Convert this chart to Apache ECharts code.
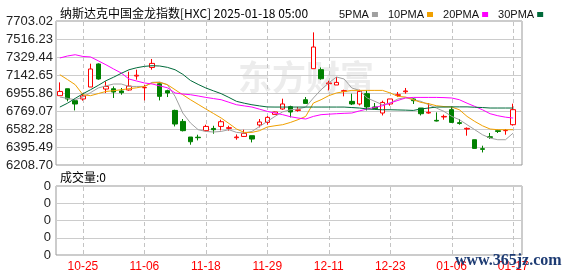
<!DOCTYPE html>
<html>
<head>
<meta charset="utf-8">
<script src="https://cdn.jsdelivr.net/npm/echarts@6/dist/echarts.min.js"></script>
<style>
html,body{margin:0;padding:0;background:#fff;}
#chart{width:578px;height:276px;}
</style>
</head>
<body>
<div id="chart"></div>
<script>
var titleText = '纳斯达克中国金龙指数[HXC] 2025-01-18 05:00';
var volumeTitle = '成交量:0';
var legendNames = ['5PMA', '10PMA', '20PMA', '30PMA'];
var dates = ['10-22','10-23','10-24','10-25','10-28','10-29','10-30','10-31','11-01','11-04',
  '11-05','11-06','11-07','11-08','11-11','11-12','11-13','11-14','11-15','11-18',
  '11-19','11-20','11-21','11-22','11-25','11-26','11-27','11-29','12-02','12-03',
  '12-04','12-05','12-06','12-09','12-10','12-11','12-12','12-13','12-16','12-17',
  '12-18','12-19','12-20','12-23','12-24','12-26','12-27','12-30','12-31','01-02',
  '01-03','01-06','01-07','01-08','01-10','01-13','01-14','01-15','01-16','01-17'];
var tickDates = ['10-25','11-06','11-18','11-29','12-11','12-23','01-06','01-17'];
// [open, close, low, high]
var candles = [
  [6928,6972,6928,7066],[7000,6894,6869,7000],[6876,6842,6775,6886],[6894,6925,6876,6949],
  [7018,7205,7018,7260],[7257,7101,7094,7263],[6997,7024,6956,7076],[7000,6966,6904,7024],
  [6977,6959,6938,7008],[6987,7028,6980,7177],[7132,7140,7094,7198],[7010,7014,6879,7042],
  [7221,7263,7198,7309],[7052,6921,6879,7066],[6980,6956,6914,6990],[6775,6634,6609,6783],
  [6661,6565,6557,6686],[6499,6450,6419,6499],[6497,6492,6464,6523],[6565,6609,6557,6627],
  [6588,6575,6533,6616],[6609,6658,6568,6679],[6589,6596,6565,6616],[6492,6499,6471,6526],
  [6505,6537,6499,6575],[6513,6478,6443,6513],[6624,6655,6599,6686],[6651,6703,6627,6717],
  [6734,6759,6734,6762],[6790,6842,6782,6897],[6814,6759,6703,6824],[6775,6782,6762,6811],
  [6886,6848,6848,6914],[7208,7433,7208,7585],[7198,7104,7094,7221],[7052,7060,6983,7083],
  [7039,7066,7039,7122],[6974,6980,6921,6990],[6869,6842,6831,6949],[6842,6972,6827,6990],
  [6949,6811,6775,6983],[6811,6793,6793,6852],[6748,6858,6723,6876],[6842,6894,6824,6894],
  [6931,6938,6914,6966],[6969,6977,6949,7008],[6894,6876,6842,6900],[6800,6741,6723,6800],
  [6748,6755,6741,6852],[6672,6665,6661,6755],[6707,6713,6679,6731],[6783,6651,6645,6817],
  [6648,6640,6627,6686],[6582,6589,6513,6599],[6471,6381,6381,6471],[6378,6371,6339,6409],
  [6502,6495,6479,6541],[6565,6557,6541,6575],[6565,6568,6523,6582],[6627,6783,6617,6845]
];
var ma5 = [6914,6900,6886,6914,6960,7008,7030,7049,7049,7024,7024,7024,7066,7070,7042,6921,6748,6645,6575,6557,
  6551,6557,6575,6547,6540,6557,6609,6661,6713,6760,6782,6790,6810,6904,6990,7060,7122,7101,7008,6983,
  6904,6869,6834,6852,6894,6908,6886,6869,6834,6800,6765,6713,6679,6627,6575,6523,6488,6471,6471,6540];
var ma10 = [7146,7095,7042,6938,6928,6950,6972,6980,6990,7000,7010,7024,7060,7066,7042,6990,6938,6886,6838,6790,
  6743,6696,6640,6582,6547,6547,6565,6603,6616,6627,6650,6679,6713,6852,6886,6928,6956,6970,6983,6983,
  6983,6983,6983,6956,6921,6914,6886,6858,6845,6824,6815,6810,6782,6713,6661,6616,6582,6575,6575,6575];
var ma20 = [7319,7340,7353,7335,7330,7290,7249,7205,7163,7101,7080,7060,7050,7030,7010,6956,6945,6938,6925,6910,
  6898,6886,6860,6834,6822,6810,6788,6765,6748,6731,6710,6696,6686,6713,6731,6736,6741,6745,6748,6770,
  6790,6807,6824,6852,6879,6904,6910,6910,6910,6910,6908,6904,6886,6850,6817,6782,6741,6720,6705,6696];
var ma30 = [6810,6850,6900,6948,6990,7035,7083,7120,7160,7197,7218,7232,7239,7236,7222,7197,7150,7086,7045,7008,
  6978,6949,6910,6869,6850,6834,6822,6811,6810,6810,6810,6810,6810,6810,6810,6810,6810,6810,6805,6800,
  6790,6785,6782,6782,6780,6778,6775,6790,6800,6810,6810,6812,6812,6812,6808,6805,6800,6800,6800,6800];
var volumes = dates.map(function(){ return 0; });
var priceTickLabels = ['6208.70','6395.49','6582.28','6769.07','6955.86','7142.65','7329.44','7516.23','7703.02'];
var volumeTickLabels = ['0','0','0','0','0'];
var priceMin = 6208.70, priceMax = 7703.02;

var labelShown = function(i){ return tickDates.indexOf(dates[i]) >= 0; };
var chart = echarts.init(document.getElementById('chart'), null, {renderer:'canvas'});
var lineColors = ['#a0a0a0', '#f0a000', '#ff00ff', '#006a3a'];
var maData = [ma5, ma10, ma20, ma30];
var series = [{
  type:'candlestick', xAxisIndex:1, yAxisIndex:1, data:candles, barWidth:5,
  itemStyle:{color:'#ffffff', color0:'#008000', borderColor:'#ff0000', borderColor0:'#008000', borderWidth:1}
}];
legendNames.forEach(function(n, k){
  series.push({name:n, type:'line', xAxisIndex:1, yAxisIndex:1, data:maData[k], showSymbol:false,
    lineStyle:{width:1, color:lineColors[k]}, itemStyle:{color:lineColors[k]}});
});
series.push({type:'bar', xAxisIndex:3, yAxisIndex:3, data:volumes, barWidth:5, itemStyle:{color:'#008000'}});

var baseGraphic = [
  {id:'wm1', type:'text', left:238, top:60, z:-1, silent:true, style:{text:'东方财富', fontSize:34, fontWeight:'bold', fill:'rgba(200,200,200,0.35)', fontFamily:'"Noto Sans CJK SC", sans-serif'}},
  {id:'wm2', type:'text', left:455, top:253, z:100, silent:true, style:{text:'www.365jz.com', fontSize:16, fontWeight:'bold', fill:'#1d3b73', fontFamily:'"Liberation Serif", serif'}}
];
chart.setOption({
  animation:false,
  backgroundColor:'#ffffff',
  title:[
    {text:titleText, left:55, top:2, textStyle:{fontSize:12, fontWeight:'normal', color:'#000', fontFamily:'"Noto Sans CJK SC", sans-serif'}},
    {text:volumeTitle, left:55, top:166, textStyle:{fontSize:12, fontWeight:'normal', color:'#000', fontFamily:'"Noto Sans CJK SC", sans-serif'}}
  ],
  legend:{data:legendNames, left:334, top:4, icon:'rect', itemWidth:6, itemHeight:5, align:'right', itemGap:10,
    textStyle:{fontSize:11, color:'#111', fontFamily:'"Liberation Sans", sans-serif', padding:[0,-2,0,0]}},
  graphic:baseGraphic,
  grid:[
    {left:56, top:21, width:466, height:144, show:true, borderColor:'#999', borderWidth:1, backgroundColor:'transparent'},
    {left:56, top:21, width:461, height:144},
    {left:56, top:186, width:466, height:69, show:true, borderColor:'#999', borderWidth:1, backgroundColor:'transparent'},
    {left:56, top:186, width:461, height:69}
  ],
  xAxis:[
    {type:'value', gridIndex:0, show:false, min:0, max:1},
    {type:'category', gridIndex:1, data:dates, boundaryGap:true,
      axisLine:{show:false}, axisTick:{show:false}, axisLabel:{show:false}, splitLine:{show:false}},
    {type:'value', gridIndex:2, show:false, min:0, max:1},
    {type:'category', gridIndex:3, data:dates, boundaryGap:true,
      axisLine:{show:false}, axisTick:{show:false},
      axisLabel:{show:true, interval:labelShown, color:'#ff0000', fontSize:12, margin:6, fontFamily:'"Liberation Sans", sans-serif'},
      splitLine:{show:false}}
  ],
  yAxis:[
    {type:'value', gridIndex:0, min:0, max:8, interval:1,
      axisLine:{show:false}, axisTick:{show:false},
      axisLabel:{formatter:function(v){return priceTickLabels[Math.round(v)];}, color:'#222', fontSize:13, margin:3, fontFamily:'"Liberation Sans", sans-serif'},
      splitLine:{show:true, lineStyle:{color:'#cccccc', width:1}}},
    {type:'value', gridIndex:1, min:priceMin, max:priceMax, show:false, splitLine:{show:false}},
    {type:'value', gridIndex:2, min:0, max:4, interval:1,
      axisLine:{show:false}, axisTick:{show:false},
      axisLabel:{formatter:function(v){return volumeTickLabels[Math.round(v)];}, color:'#222', fontSize:13, margin:5, fontFamily:'"Liberation Sans", sans-serif'},
      splitLine:{show:true, lineStyle:{color:'#cccccc', width:1}}},
    {type:'value', gridIndex:3, min:0, max:1, show:false, splitLine:{show:false}}
  ],
  series:series
});

// dashed vertical date lines, placed through the category axis scale
var dashLines = [];
tickDates.forEach(function(d, k){
  var x = Math.round(chart.convertToPixel({xAxisIndex:1}, d)) + 0.5;
  var yTop = chart.convertToPixel({yAxisIndex:0}, 8);
  var yBot = chart.convertToPixel({yAxisIndex:0}, 0);
  var vTop = chart.convertToPixel({yAxisIndex:2}, 4);
  var vBot = chart.convertToPixel({yAxisIndex:2}, 0);
  [[yTop, yBot], [vTop, vBot]].forEach(function(seg, j){
    dashLines.push({id:'vl' + k + '_' + j, type:'line', z:1, silent:true,
      shape:{x1:x, y1:seg[0] + 1, x2:x, y2:seg[1] - 1},
      style:{stroke:'#c4c4c4', lineWidth:1, lineDash:[4,3]}});
  });
});
chart.setOption({graphic: baseGraphic.concat(dashLines)});
</script>
</body>
</html>
